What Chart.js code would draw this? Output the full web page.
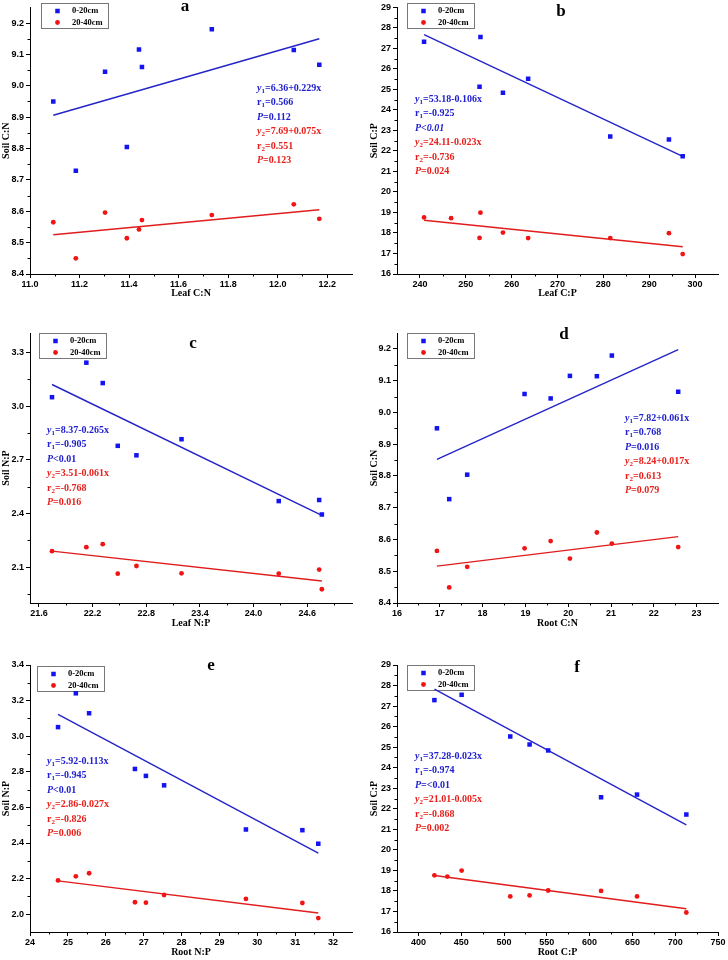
<!DOCTYPE html>
<html>
<head>
<meta charset="utf-8">
<script src="https://cdn.jsdelivr.net/npm/chart.js"></script>
<style>
  body { margin: 0; background: #fff; width: 728px; height: 960px; position: relative; overflow: hidden; }
  canvas { position: absolute; }
</style>
</head>
<body>
<canvas id="pa" width="364" height="320" style="left:0;top:0"></canvas>
<canvas id="pb" width="364" height="320" style="left:364px;top:0"></canvas>
<canvas id="pc" width="364" height="320" style="left:0;top:320px"></canvas>
<canvas id="pd" width="364" height="320" style="left:364px;top:320px"></canvas>
<canvas id="pe" width="364" height="320" style="left:0;top:640px"></canvas>
<canvas id="pf" width="364" height="320" style="left:364px;top:640px"></canvas>

<script>
// ---- data ----
const seriesNames = ['0-20cm', '20-40cm'];

// a: Leaf C:N vs Soil C:N
const aX    = [11.094, 11.185, 11.303, 11.391, 11.44, 11.452, 11.734, 12.065, 12.168];
const aBlue = [8.95, 8.729, 9.045, 8.805, 9.116, 9.06, 9.18, 9.114, 9.067];
const aRed  = [8.565, 8.45, 8.596, 8.514, 8.542, 8.572, 8.588, 8.622, 8.576];
const aFitBlue = [[11.094, 8.906], [12.168, 9.15]];
const aFitRed  = [[11.094, 8.525], [12.168, 8.605]];
const aXTicks = [11.0, 11.2, 11.4, 11.6, 11.8, 12.0, 12.2];
const aYTicks = [8.4, 8.5, 8.6, 8.7, 8.8, 8.9, 9.0, 9.1, 9.2];
const aNotes = ['y1=6.36+0.229x', 'r1=0.566', 'P=0.112', 'y2=7.69+0.075x', 'r2=0.551', 'P=0.123'];

// b: Leaf C:P vs Soil C:P
const bX    = [240.9, 246.8, 253.0, 253.2, 258.1, 263.6, 281.5, 294.3, 297.3];
const bBlue = [27.32, null, 25.13, 27.56, 24.84, 25.52, 22.71, 22.56, 21.74];
const bRed  = [18.76, 18.72, 17.76, 18.99, 18.02, 17.75, 17.75, 17.99, 16.97];
const bFitBlue = [[240.9, 27.67], [297.3, 21.74]];
const bFitRed  = [[240.9, 18.62], [297.3, 17.33]];
const bXTicks = [240, 250, 260, 270, 280, 290, 300];
const bYTicks = [16, 17, 18, 19, 20, 21, 22, 23, 24, 25, 26, 27, 28, 29];
const bNotes = ['y1=53.18-0.106x', 'r1=-0.925', '*P<0.01', 'y2=24.11-0.023x', 'r2=-0.736', 'P=0.024'];

// c: Leaf N:P vs Soil N:P
const cX    = [21.746, 22.130, 22.313, 22.481, 22.690, 23.194, 24.281, 24.733, 24.763];
const cBlue = [3.051, 3.244, 3.130, 2.779, 2.726, 2.816, 2.470, 2.476, 2.395];
const cRed  = [2.190, 2.212, 2.229, 2.064, 2.107, 2.066, 2.064, 2.087, 1.977];
const cFitBlue = [[21.746, 3.122], [24.763, 2.39]];
const cFitRed  = [[21.746, 2.19], [24.763, 2.023]];
const cXTicks = [21.6, 22.2, 22.8, 23.4, 24.0, 24.6];
const cYTicks = [2.1, 2.4, 2.7, 3.0, 3.3];
const cNotes = ['y1=8.37-0.265x', 'r1=-0.905', 'P<0.01', 'y2=3.51-0.061x', 'r2=-0.768', 'P=0.016'];

// d: Root C:N vs Soil C:N
const dX    = [16.933, 17.22, 17.64, 18.98, 19.59, 20.04, 20.67, 21.02, 22.57];
const dBlue = [8.95, 8.727, 8.804, 9.058, 9.044, 9.115, 9.114, 9.179, 9.065];
const dRed  = [8.564, 8.449, 8.514, 8.572, 8.595, 8.540, 8.622, 8.587, 8.576];
const dFitBlue = [[16.933, 8.852], [22.57, 9.198]];
const dFitRed  = [[16.933, 8.516], [22.57, 8.609]];
const dXTicks = [16, 17, 18, 19, 20, 21, 22, 23];
const dYTicks = [8.4, 8.5, 8.6, 8.7, 8.8, 8.9, 9.0, 9.1, 9.2];
const dNotes = ['y1=7.82+0.061x', 'r1=0.768', 'P=0.016', 'y2=8.24+0.017x', 'r2=0.613', 'P=0.079'];

// e: Root N:P vs Soil N:P
const eX    = [24.74, 25.21, 25.56, 26.77, 27.06, 27.54, 29.70, 31.19, 31.61];
const eBlue = [3.051, 3.241, 3.129, 2.816, 2.777, 2.724, 2.476, 2.472, 2.396];
const eRed  = [2.190, 2.213, 2.230, 2.067, 2.065, 2.108, 2.086, 2.063, 1.978];
const eFitBlue = [[24.74, 3.122], [31.61, 2.343]];
const eFitRed  = [[24.74, 2.187], [31.61, 2.007]];
const eXTicks = [24, 25, 26, 27, 28, 29, 30, 31, 32];
const eYTicks = [2.0, 2.2, 2.4, 2.6, 2.8, 3.0, 3.2, 3.4];
const eNotes = ['y1=5.92-0.113x', 'r1=-0.945', 'P<0.01', 'y2=2.86-0.027x', 'r2=-0.826', 'P=0.006'];

// f: Root C:P vs Soil C:P
const fX    = [418.7, 433.8, 450.5, 507.3, 529.9, 551.6, 613.4, 655.4, 713.0];
const fBlue = [27.29, null, 27.55, 25.52, 25.13, 24.84, 22.56, 22.69, 21.72];
const fRed  = [18.76, 18.70, 18.99, 17.73, 17.78, 18.02, 18.00, 17.73, 16.95];
const fFitBlue = [[418.7, 27.83], [713.0, 21.22]];
const fFitRed  = [[418.7, 18.75], [713.0, 17.13]];
const fXTicks = [400, 450, 500, 550, 600, 650, 700, 750];
const fYTicks = [16, 17, 18, 19, 20, 21, 22, 23, 24, 25, 26, 27, 28, 29];
const fNotes = ['y1=37.28-0.023x', 'r1=-0.974', 'P=<0.01', 'y2=21.01-0.005x', 'r2=-0.868', 'P=0.002'];

// ---- styling / layout ----
const BLUE = '#1414f0', BLUE_LINE = '#2424c8', BLUE_TXT = '#2020d0';
const RED = '#f01414', RED_LINE = '#e01c1c', RED_TXT = '#e8201c';
const SERIF = '"Liberation Serif", "Times New Roman", serif';
const SANS = '"Liberation Sans", Arial, sans-serif';

const cols = [
  { yW: 30, padR: 12, yTitlePad: 0 },
  { yW: 33, padR: 10, yTitlePad: 4 }
];
const rows = [
  { padT: 6,  xH: 46, xTitlePad: 21 },
  { padT: 13, xH: 37, xTitlePad: 11 },
  { padT: 25, xH: 28, xTitlePad: 2 }
];

const panels = [
  { id: 'pa', col: 0, row: 0, letter: 'a', lx: 185, ly: 11, xTitle: 'Leaf C:N', yTitle: 'Soil C:N',
    x: aX, blue: aBlue, red: aRed, fitB: aFitBlue, fitR: aFitRed, xt: aXTicks, yt: aYTicks,
    xMin: 11.0, xMax: 12.3, yMin: 8.4, yMax: 9.25, dx: 1, dy: 1,
    notes: aNotes, nx: 257, ny: 88, legend: [41, 3] },
  { id: 'pb', col: 1, row: 0, letter: 'b', lx: 197, ly: 16, xTitle: 'Leaf C:P', yTitle: 'Soil C:P',
    x: bX, blue: bBlue, red: bRed, fitB: bFitBlue, fitR: bFitRed, xt: bXTicks, yt: bYTicks,
    xMin: 235, xMax: 305, yMin: 16, yMax: 29, dx: 0, dy: 0,
    notes: bNotes, nx: 51, ny: 99, legend: [43, 3] },
  { id: 'pc', col: 0, row: 1, letter: 'c', lx: 193, ly: 28, xTitle: 'Leaf N:P', yTitle: 'Soil N:P',
    x: cX, blue: cBlue, red: cRed, fitB: cFitBlue, fitR: cFitRed, xt: cXTicks, yt: cYTicks,
    xMin: 21.5, xMax: 25.1, yMin: 1.9, yMax: 3.41, dx: 1, dy: 1,
    notes: cNotes, nx: 47, ny: 110, legend: [39, 13] },
  { id: 'pd', col: 1, row: 1, letter: 'd', lx: 200, ly: 19, xTitle: 'Root C:N', yTitle: 'Soil C:N',
    x: dX, blue: dBlue, red: dRed, fitB: dFitBlue, fitR: dFitRed, xt: dXTicks, yt: dYTicks,
    xMin: 16, xMax: 23.5, yMin: 8.4, yMax: 9.25, dx: 0, dy: 1,
    notes: dNotes, nx: 261, ny: 98, legend: [43, 13] },
  { id: 'pe', col: 0, row: 2, letter: 'e', lx: 211, ly: 30, xTitle: 'Root N:P', yTitle: 'Soil N:P',
    x: eX, blue: eBlue, red: eRed, fitB: eFitBlue, fitR: eFitRed, xt: eXTicks, yt: eYTicks,
    xMin: 24, xMax: 32.5, yMin: 1.9, yMax: 3.4, dx: 0, dy: 1,
    notes: eNotes, nx: 47, ny: 121, legend: [37, 26] },
  { id: 'pf', col: 1, row: 2, letter: 'f', lx: 213, ly: 32, xTitle: 'Root C:P', yTitle: 'Soil C:P',
    x: fX, blue: fBlue, red: fRed, fitB: fFitBlue, fitR: fFitRed, xt: fXTicks, yt: fYTicks,
    xMin: 375, xMax: 750, yMin: 16, yMax: 29, dx: 0, dy: 0,
    notes: fNotes, nx: 51, ny: 116, legend: [43, 25] }
];

function pts(xs, ys) {
  return xs.map((x, i) => ({ x: x, y: ys[i] })).filter(p => p.y !== null);
}
function line(arr) { return arr.map(p => ({ x: p[0], y: p[1] })); }

// half-step minor ticks between (and around) the major ones
function minors(ticks, min, max) {
  const step = ticks[1] - ticks[0];
  const out = [];
  ticks.forEach(t => {
    [t - step / 2, t + step / 2].forEach(v => {
      if (v > min + 1e-9 && v < max - 1e-9 && !out.some(o => Math.abs(o - v) < 1e-9)) out.push(v);
    });
  });
  return out;
}

function drawNote(ctx, x, y, str, color) {
  let allItalic = false;
  if (str[0] === '*') { allItalic = true; str = str.slice(1); }
  const m = str.match(/^([yrP])(\d?)(.*)$/);
  const up = 'bold 10px ' + SERIF, it = 'italic bold 10px ' + SERIF, sub = 'bold 7px ' + SERIF;
  ctx.fillStyle = color;
  ctx.textBaseline = 'middle';
  ctx.textAlign = 'left';
  let cx = x;
  ctx.font = m[1] === 'r' ? up : it;
  ctx.fillText(m[1], cx, y);
  cx += ctx.measureText(m[1]).width;
  if (m[2]) {
    ctx.font = sub;
    ctx.fillText(m[2], cx, y + 3);
    cx += ctx.measureText(m[2]).width;
  }
  ctx.font = allItalic ? it : up;
  ctx.fillText(m[3], cx, y);
}

function makeDecor(p) {
  const xm = minors(p.xt, p.xMin, p.xMax);
  const ym = minors(p.yt, p.yMin, p.yMax);
  return {
    id: 'decor',
    beforeDatasetsDraw(chart) {
      // legend box, drawn under the marks
      const ctx = chart.ctx;
      const lx = p.legend[0], ly = p.legend[1], lw = 67, lh = 25;
      ctx.save();
      ctx.fillStyle = '#fff';
      ctx.fillRect(lx, ly, lw, lh);
      ctx.strokeStyle = '#777';
      ctx.lineWidth = 1;
      ctx.strokeRect(lx + 0.5, ly + 0.5, lw, lh);
      [0, 1].forEach(k => {
        const ds = chart.data.datasets[k];
        const my = ly + 8 + k * 11.5;
        ctx.fillStyle = ds.backgroundColor;
        ctx.beginPath();
        if (ds.pointStyle === 'rect') {
          const h = Math.SQRT1_2 * ds.pointRadius;
          ctx.rect(lx + 16.5 - h, my - h, 2 * h, 2 * h);
        } else {
          ctx.arc(lx + 16.5, my, ds.pointRadius, 0, Math.PI * 2);
        }
        ctx.fill();
        ctx.fillStyle = '#000';
        ctx.font = 'bold 8.5px ' + SERIF;
        ctx.textAlign = 'left';
        ctx.textBaseline = 'middle';
        ctx.fillText(ds.label, lx + 31, my);
      });
      ctx.restore();
    },
    afterDraw(chart) {
      const { ctx, chartArea: a } = chart;
      const xs = chart.scales.x, ys = chart.scales.y;
      ctx.save();
      // minor ticks
      ctx.strokeStyle = '#000';
      ctx.lineWidth = 1;
      ctx.beginPath();
      xm.forEach(v => {
        const px = Math.round(xs.getPixelForValue(v)) + 0.5;
        ctx.moveTo(px, a.bottom); ctx.lineTo(px, a.bottom + 2.5);
      });
      ym.forEach(v => {
        const py = Math.round(ys.getPixelForValue(v)) + 0.5;
        ctx.moveTo(a.left, py); ctx.lineTo(a.left - 2.5, py);
      });
      ctx.stroke();

      // panel letter
      ctx.fillStyle = '#000';
      ctx.font = 'bold 17px ' + SERIF;
      ctx.textAlign = 'center';
      ctx.textBaseline = 'alphabetic';
      ctx.fillText(p.letter, p.lx, p.ly);

      // regression notes
      p.notes.forEach((s, i) => drawNote(ctx, p.nx, p.ny + i * 14.5, s, i < 3 ? BLUE_TXT : RED_TXT));
      ctx.restore();
    }
  };
}

panels.forEach(p => {
  const col = cols[p.col], row = rows[p.row];
  const tickFont = { family: SANS, size: 9, weight: 'bold' };
  const titleFont = { family: SERIF, size: 10, weight: 'bold' };
  new Chart(document.getElementById(p.id), {
    type: 'scatter',
    data: {
      datasets: [
        { label: seriesNames[0], data: pts(p.x, p.blue), pointStyle: 'rect', pointRadius: 3.2,
          backgroundColor: BLUE, borderWidth: 0, order: 1 },
        { label: seriesNames[1], data: pts(p.x, p.red), pointStyle: 'circle', pointRadius: 2.4,
          backgroundColor: RED, borderWidth: 0, order: 1 },
        { label: 'fit1', data: line(p.fitB), showLine: true, pointRadius: 0, borderColor: BLUE_LINE,
          borderWidth: 1.4, order: 2 },
        { label: 'fit2', data: line(p.fitR), showLine: true, pointRadius: 0, borderColor: RED_LINE,
          borderWidth: 1.4, order: 2 }
      ]
    },
    options: {
      responsive: false,
      animation: false,
      devicePixelRatio: 1,
      layout: { padding: { left: 0, top: row.padT, right: col.padR, bottom: 0 } },
      plugins: { legend: { display: false }, tooltip: { enabled: false } },
      scales: {
        x: {
          type: 'linear', min: p.xMin, max: p.xMax,
          afterFit: s => { s.height = row.xH; },
          afterBuildTicks: s => { s.ticks = p.xt.map(v => ({ value: v })); },
          ticks: { font: tickFont, color: '#000', padding: 1, maxRotation: 0, autoSkip: false,
                   callback: v => Number(v).toFixed(p.dx) },
          grid: { drawOnChartArea: false, color: '#000', tickLength: 4 },
          border: { color: '#000', width: 1 },
          title: { display: true, text: p.xTitle, font: titleFont, color: '#000',
                   padding: { top: 0, bottom: row.xTitlePad } }
        },
        y: {
          type: 'linear', min: p.yMin, max: p.yMax,
          afterFit: s => { s.width = col.yW; },
          afterBuildTicks: s => { s.ticks = p.yt.map(v => ({ value: v })); },
          ticks: { font: tickFont, color: '#000', padding: 2, autoSkip: false,
                   callback: v => Number(v).toFixed(p.dy) },
          grid: { drawOnChartArea: false, color: '#000', tickLength: 4 },
          border: { color: '#000', width: 1 },
          title: { display: true, text: p.yTitle, font: titleFont, color: '#000',
                   padding: { top: col.yTitlePad, bottom: 0 } }
        }
      }
    },
    plugins: [makeDecor(p)]
  });
});
</script>
</body>
</html>
